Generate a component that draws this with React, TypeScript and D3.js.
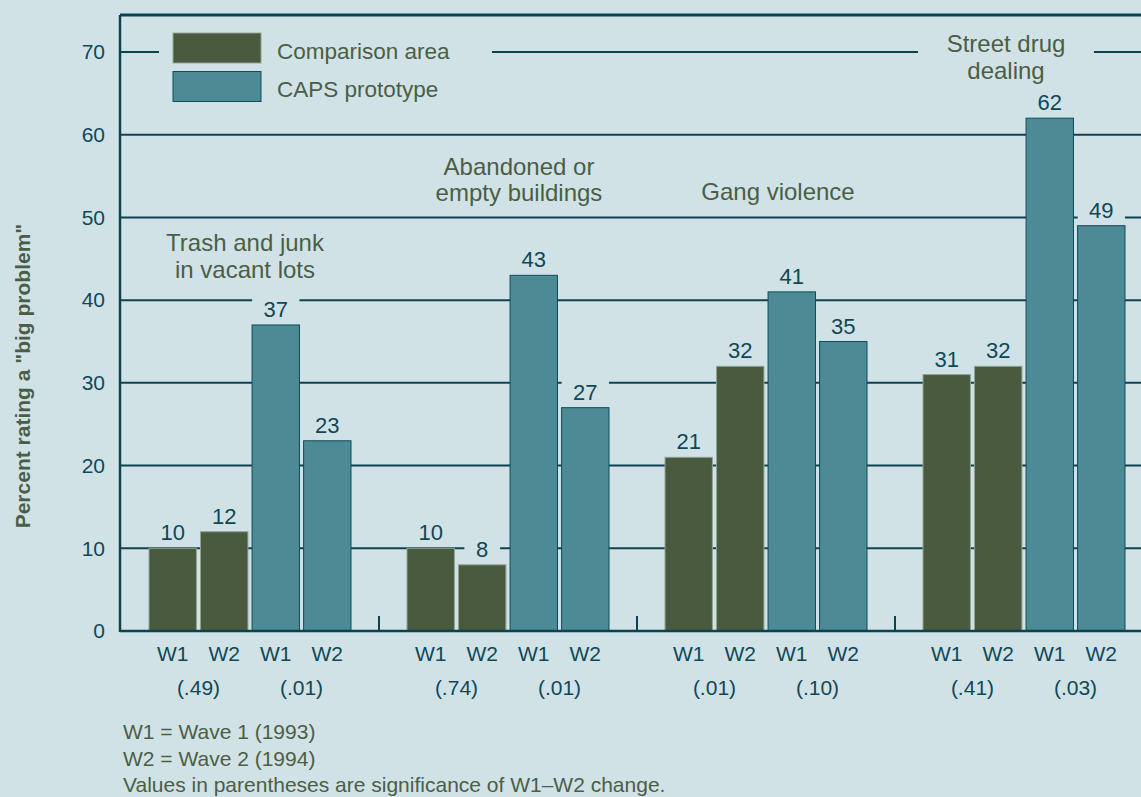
import React from 'react';
import * as d3 from 'd3';

const WIDTH = 1141;
const HEIGHT = 797;

// categories (one line per array entry)
const categories = [
    ['Trash and junk', 'in vacant lots'],
    ['Abandoned or', 'empty buildings'],
    ['Gang violence'],
    ['Street drug', 'dealing'],
];
const waves = ['W1', 'W2'];
const comparisonW1 = [10, 10, 21, 31];
const comparisonW2 = [12, 8, 32, 32];
const capsW1 = [37, 43, 41, 62];
const capsW2 = [23, 27, 35, 49];
const comparisonSig = ['(.49)', '(.74)', '(.01)', '(.41)'];
const capsSig = ['(.01)', '(.01)', '(.10)', '(.03)'];
const yTicks = [0, 10, 20, 30, 40, 50, 60, 70];
const legendLabels = ['Comparison area', 'CAPS prototype'];
const footnotes = [
    'W1 = Wave 1 (1993)',
    'W2 = Wave 2 (1994)',
    'Values in parentheses are significance of W1\u2013W2 change.',
];
const yTitle = 'Percent rating a "big problem"';

const BG = '#d1e2e7';
const AXIS = '#0c4351';
const NUM_TEXT = '#0e4857';
const OLIVE_TEXT = '#4b5e45';
const COMPARISON = '#4a5a3f';
const CAPS = '#4c8a96';
const FONT = '"Liberation Sans", Arial, sans-serif';

// label placement (pixel offsets from group centre, baselines)
const categoryLabelLayout = [
    {dx: -5, baselines: [251, 278], size: 24},
    {dx: 11, baselines: [175, 201], size: 24},
    {dx: 12, baselines: [200], size: 24},
    {dx: -18, baselines: [52, 79], size: 24},
];

const approxWidth = (s: string, size: number) => s.length * size * 0.53;

export default function App() {
    const axisX = 120;
    const yScale = d3.scaleLinear().domain([0, 70]).range([631, 52]);
    const baseY = yScale(0);
    const topY = yScale(70) - 37;

    const groupScale = d3.scaleBand<number>()
        .domain(d3.range(categories.length))
        .range([121, 121 + 4 * 258]);
    const barScale = d3.scaleBand<string>()
        .domain(['cW1', 'cW2', 'pW1', 'pW2'])
        .range([28, 230])
        .paddingInner(0.08);

    const groups = categories.map((lines, i) => ({
        lines,
        x0: groupScale(i) as number,
        bars: [
            {key: 'cW1', wave: waves[0], value: comparisonW1[i], fill: COMPARISON},
            {key: 'cW2', wave: waves[1], value: comparisonW2[i], fill: COMPARISON},
            {key: 'pW1', wave: waves[0], value: capsW1[i], fill: CAPS},
            {key: 'pW2', wave: waves[1], value: capsW2[i], fill: CAPS},
        ],
        sig: [comparisonSig[i], capsSig[i]],
    }));

    const bw = barScale.bandwidth();
    const groupCenter = (g: typeof groups[0]) =>
        g.x0 + ((barScale('cW1') as number) + (barScale('pW2') as number) + bw) / 2;

    return (
        <svg width={WIDTH} height={HEIGHT}
             style={{position: 'absolute', left: 0, top: 0, display: 'block'}}
             fontFamily={FONT}>
            <rect x={0} y={0} width={WIDTH} height={HEIGHT} fill={BG}/>

            {/* gridlines */}
            {yTicks.filter(t => t > 0).map(t => (
                <line key={t} x1={axisX} x2={WIDTH} y1={yScale(t)} y2={yScale(t)}
                      stroke={AXIS} strokeWidth={2}/>
            ))}

            {/* backgrounds that cut the gridlines behind labels */}
            <rect x={159} y={28} width={333} height={82} fill={BG}/>
            {groups.map((g, gi) => {
                const lay = categoryLabelLayout[gi];
                const cx = groupCenter(g) + lay.dx;
                return g.lines.map((line, li) => {
                    const w = approxWidth(line, lay.size) + 36;
                    return <rect key={`cb${gi}${li}`} x={cx - w / 2} y={lay.baselines[li] - 20}
                                 width={w} height={26} fill={BG}/>;
                });
            })}
            {groups.map((g, gi) => g.bars.map(b => {
                const cx = g.x0 + (barScale(b.key) as number) + bw / 2;
                const base = yScale(b.value) - 8;
                const w = approxWidth(String(b.value), 22) + 24;
                return <rect key={`vb${gi}${b.key}`} x={cx - w / 2} y={base - 19}
                             width={w} height={24} fill={BG}/>;
            }))}

            {/* group separator ticks */}
            {groups.slice(1).map((g, i) => (
                <line key={`sep${i}`} x1={g.x0} x2={g.x0} y1={baseY - 15} y2={baseY}
                      stroke={AXIS} strokeWidth={2}/>
            ))}

            {/* bars */}
            {groups.map((g, gi) => g.bars.map(b => (
                <rect key={`bar${gi}${b.key}`}
                      x={g.x0 + (barScale(b.key) as number)}
                      y={yScale(b.value)}
                      width={bw}
                      height={baseY - yScale(b.value)}
                      fill={b.fill}
                      stroke={b.fill === CAPS ? '#114c5a' : '#8fa392'}
                      strokeWidth={1}/>
            )))}

            {/* frame */}
            <line x1={axisX} x2={WIDTH} y1={topY} y2={topY} stroke={AXIS} strokeWidth={3}/>
            <line x1={axisX} x2={axisX} y1={topY} y2={baseY + 1} stroke={AXIS} strokeWidth={2.5}/>
            <line x1={axisX} x2={WIDTH} y1={baseY} y2={baseY} stroke={AXIS} strokeWidth={2.5}/>

            {/* y tick labels */}
            {yTicks.map(t => (
                <text key={`yt${t}`} x={105} y={yScale(t)} dy="0.35em" textAnchor="end"
                      fontSize={21} fill={NUM_TEXT}>{t}</text>
            ))}

            {/* y title */}
            <text transform={`translate(30,${376}) rotate(-90)`} textAnchor="middle"
                  fontSize={21} fontWeight="bold" fill={OLIVE_TEXT}>{yTitle}</text>

            {/* value labels */}
            {groups.map((g, gi) => g.bars.map(b => (
                <text key={`v${gi}${b.key}`}
                      x={g.x0 + (barScale(b.key) as number) + bw / 2}
                      y={yScale(b.value) - 8}
                      textAnchor="middle" fontSize={22} fill={NUM_TEXT}>{b.value}</text>
            )))}

            {/* wave labels & significance */}
            {groups.map((g, gi) => (
                <g key={`xl${gi}`} fontSize={21} fill={NUM_TEXT} textAnchor="middle">
                    {g.bars.map(b => (
                        <text key={b.key} x={g.x0 + (barScale(b.key) as number) + bw / 2}
                              y={661}>{b.wave}</text>
                    ))}
                    <text x={g.x0 + ((barScale('cW1') as number) + (barScale('cW2') as number) + bw) / 2}
                          y={695}>{g.sig[0]}</text>
                    <text x={g.x0 + ((barScale('pW1') as number) + (barScale('pW2') as number) + bw) / 2}
                          y={695}>{g.sig[1]}</text>
                </g>
            ))}

            {/* category labels */}
            {groups.map((g, gi) => {
                const lay = categoryLabelLayout[gi];
                return (
                    <text key={`cat${gi}`} x={groupCenter(g) + lay.dx} textAnchor="middle"
                          fontSize={lay.size} fill={OLIVE_TEXT}>
                        {g.lines.map((line, li) => (
                            <tspan key={li} x={groupCenter(g) + lay.dx} y={lay.baselines[li]}>{line}</tspan>
                        ))}
                    </text>
                );
            })}

            {/* legend */}
            {legendLabels.map((label, i) => (
                <g key={label} transform={`translate(173,${33 + i * 38.5})`}>
                    <rect width={88} height={30} fill={i === 0 ? COMPARISON : CAPS}
                          stroke={i === 0 ? '#8fa392' : '#114c5a'} strokeWidth={1}/>
                    <text x={104} y={26 - i * 0.5} fontSize={22.5} fill={OLIVE_TEXT}>{label}</text>
                </g>
            ))}

            {/* footnotes */}
            {footnotes.map((f, i) => (
                <text key={f} x={123} y={739 + i * 26.5} fontSize={21} fill={OLIVE_TEXT}>{f}</text>
            ))}
        </svg>
    );
}
